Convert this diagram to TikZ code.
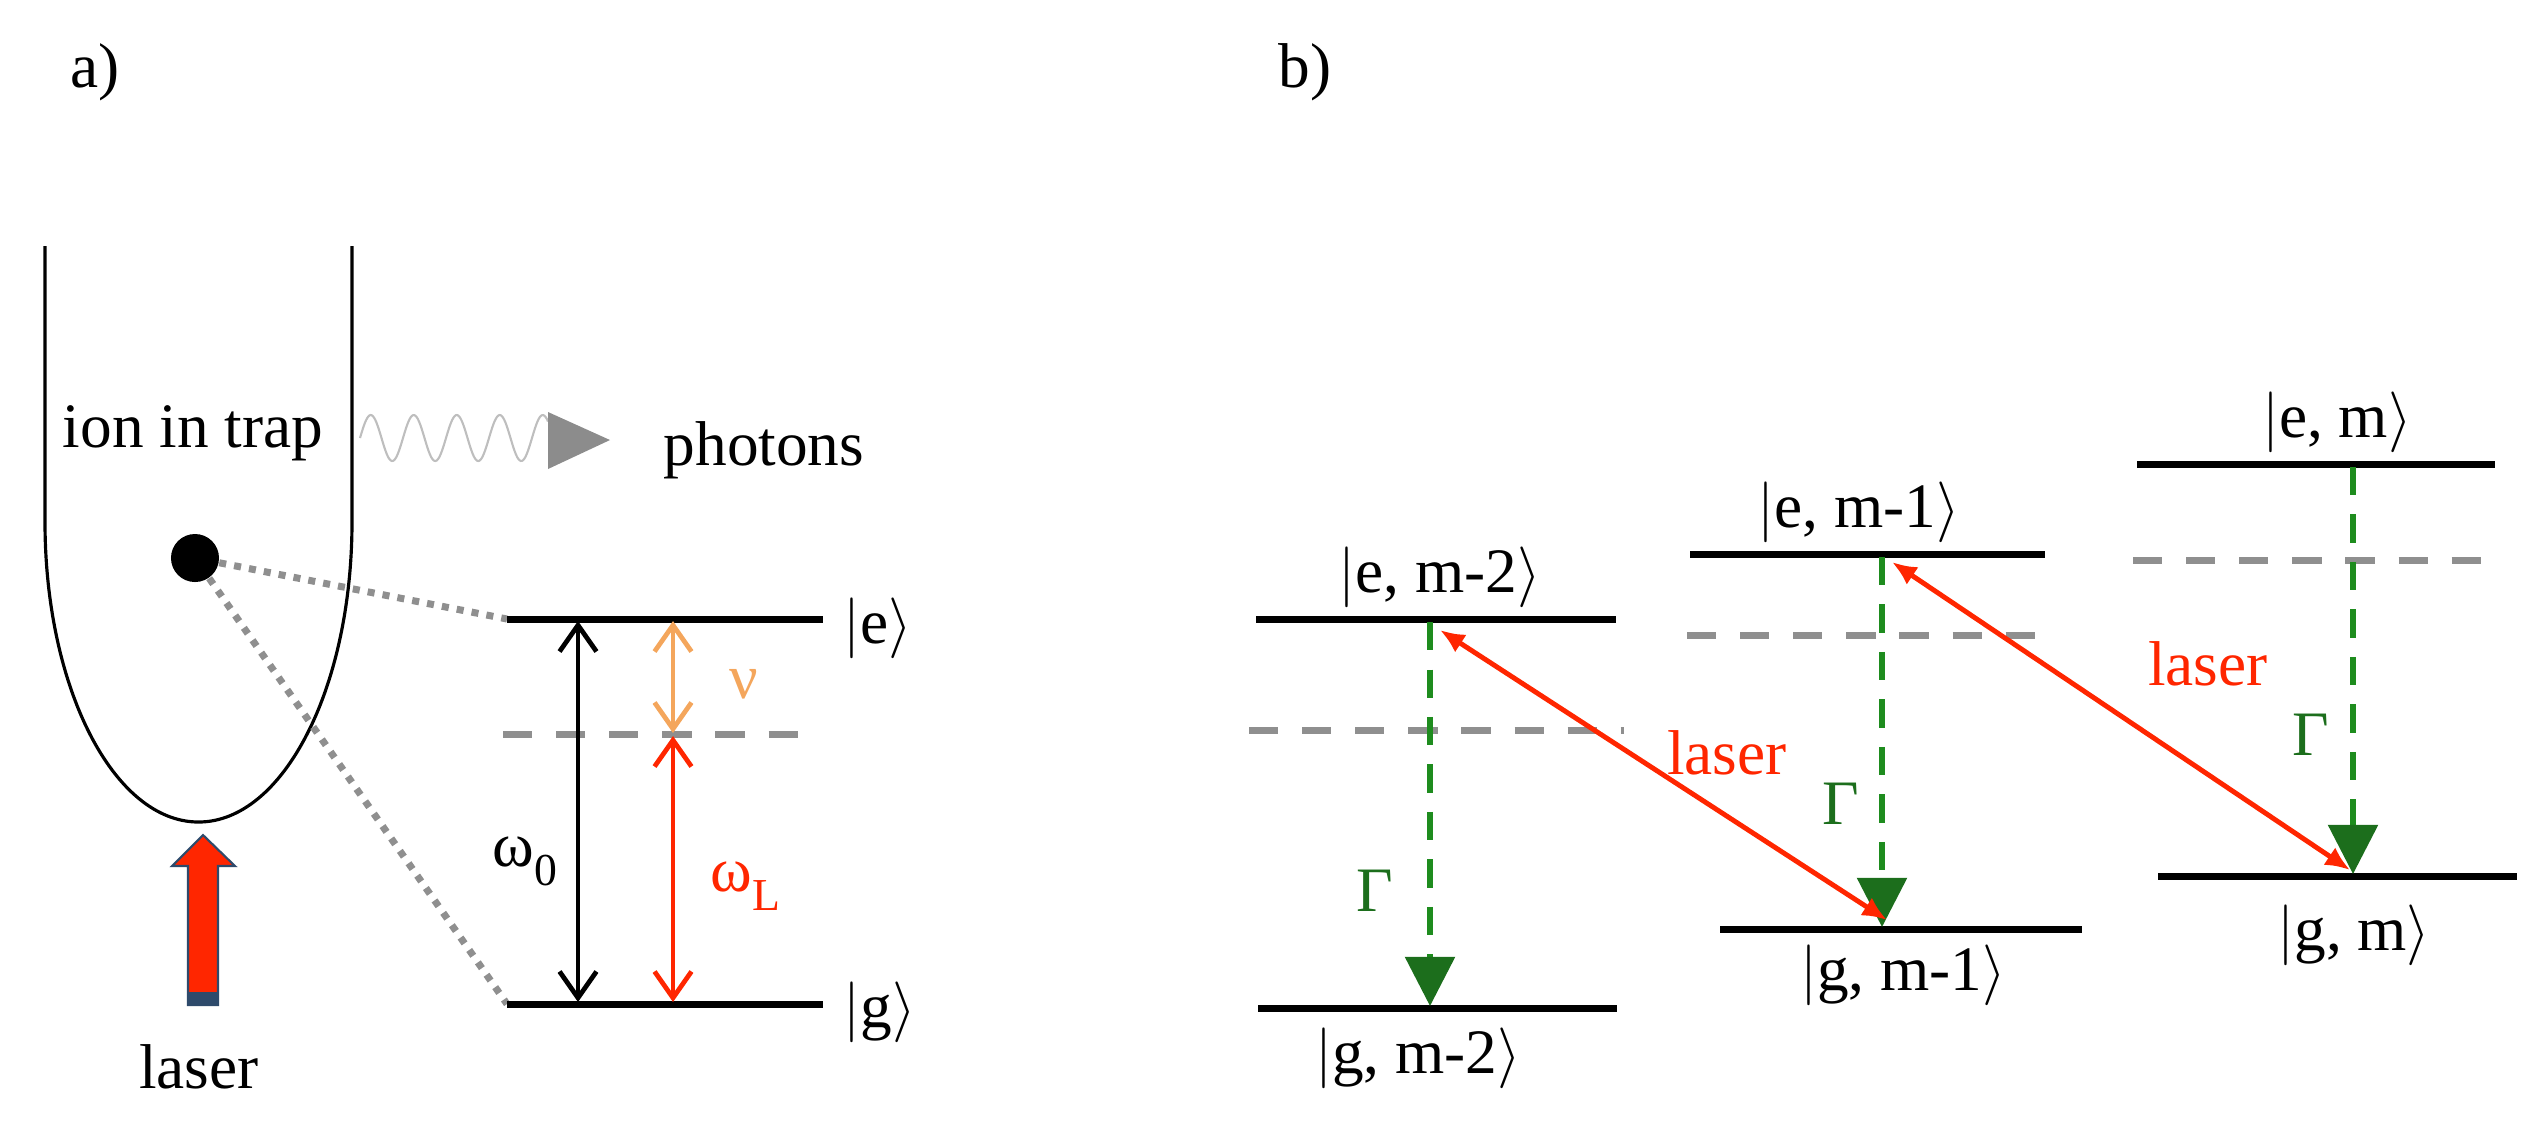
\documentclass[tikz,border=0pt]{standalone}
\usepackage{fontspec}
\setmainfont{Liberation Serif}
\usetikzlibrary{arrows.meta}
\definecolor{lred}{RGB}{255,38,0}
\definecolor{lorange}{RGB}{244,166,92}
\definecolor{lgreen}{RGB}{30,140,30}
\definecolor{dgreen}{RGB}{28,110,28}
\definecolor{dgray}{RGB}{143,143,143}
\definecolor{wgray}{RGB}{190,190,190}
\definecolor{pgray}{RGB}{140,140,140}
\definecolor{navy}{RGB}{46,74,107}
\newcommand{\myket}[1]{$|$#1$\rangle$}
\newcommand{\mysub}[1]{\raisebox{-0.3em}{\fontsize{13}{13}\selectfont #1}}
\begin{document}
\begin{tikzpicture}[x=0.01cm,y=-0.01cm,
  every node/.style={font=\fontsize{18}{22}\selectfont, inner sep=0pt},
  level/.style={line width=2pt, black},
  virt/.style={line width=2pt, dgray, dash pattern=on 8.3pt off 6.8pt},
  decay/.style={line width=1.5pt, lgreen, dash pattern=on 8pt off 5.5pt,
    -{Triangle[length=14pt,width=14pt,color=dgreen]}},
  pump/.style={line width=1.4pt, lred,
    {Latex[length=7pt,width=6pt]}-{Latex[length=7pt,width=6pt]}},
  gap/.style={line width=1.35pt,
    {Straight Barb[length=7.5pt,width=10.5pt]}-{Straight Barb[length=7.5pt,width=10.5pt]}},
  link/.style={line width=2pt, dgray, dash pattern=on 2pt off 2.3pt},
]
\useasboundingbox (0,0) rectangle (2543,1123);

% ---------------- panel labels
\node (aLab) at (95,72) {a)};
\node (bLab) at (1305,72) {b)};

% ---------------- panel a: trap
\draw[line width=0.9pt] (45,246) -- (45,522)
  .. controls (45,687.7) and (113.7,822) .. (198.5,822)
  .. controls (283.3,822) and (352,687.7) .. (352,522) -- (352,246);
\node[anchor=base] (ionLab) at (193,447) {ion in trap};
\node[circle, fill=black, minimum size=0.48cm] (ion) at (195,558) {};

% photons
\draw[wgray, line width=0.6pt] plot[domain=360:548, samples=160]
  (\x,{438-23*sin(8.372*(\x-360))});
\fill[pgray] (548,412) -- (610,440) -- (548,469) -- cycle;
\node[anchor=base] (phot) at (764,465) {photons};

% laser arrow
\filldraw[fill=lred, draw=navy, line width=0.6pt]
  (203,835) -- (235,866) -- (218,866) -- (218,1005) -- (188,1005) -- (188,866) -- (172,866) -- cycle;
\fill[navy] (188,992) rectangle (218,1005);
\node[anchor=base] (lasA) at (199,1088) {laser};

% levels panel a
\coordinate (eAL) at (507,619);
\coordinate (eAR) at (823,619);
\coordinate (gAL) at (507,1004);
\coordinate (gAR) at (823,1004);
\coordinate (vAL) at (503,734);
\coordinate (vAR) at (800,734);
\draw[link] (ion) -- (eAL);
\draw[link] (ion) -- (gAL);
\draw[level] (eAL) -- (eAR);
\draw[level] (gAL) -- (gAR);
\draw[virt] (vAL) -- (vAR);
\node[anchor=west] (eKet) at (843,628) {\myket{e}};
\node[anchor=west] (gKet) at (843,1012) {\myket{g}};

\coordinate (w0t) at (578,621);
\coordinate (w0b) at (578,1002);
\coordinate (nut) at (673,621);
\coordinate (nub) at (673,733);
\coordinate (wLt) at (673,736);
\coordinate (wLb) at (673,1002);
\draw[gap, black] (w0t) -- (w0b);
\draw[gap, lorange] (nut) -- (nub);
\draw[gap, lred] (wLt) -- (wLb);
\node[anchor=base west] (w0) at (492,866) {ω\mysub{0}};
\node[lorange] (nu) at (744,684) {ν};
\node[anchor=base west, lred] (wL) at (710,891) {ω\mysub{L}};

% ---------------- panel b
% column 1 (m-2)
\coordinate (e1L) at (1256,619); \coordinate (e1R) at (1616,619);
\coordinate (v1L) at (1249,730); \coordinate (v1R) at (1624,730);
\coordinate (g1L) at (1258,1008); \coordinate (g1R) at (1617,1008);
\draw[level] (e1L) -- (e1R);
\draw[virt] (v1L) -- (v1R);
\draw[level] (g1L) -- (g1R);
\node[anchor=base] (e1) at (1440,592) {\myket{e, m-2}};
\node[anchor=base] (g1) at (1418,1073) {\myket{g, m-2}};
\coordinate (d1t) at (1430,622); \coordinate (d1b) at (1430,1006);
\draw[decay] (d1t) -- (d1b);
\node[dgreen] (G1) at (1375,891) {Γ};

% column 2 (m-1)
\coordinate (e2L) at (1690,554); \coordinate (e2R) at (2045,554);
\coordinate (v2L) at (1687,635); \coordinate (v2R) at (2042,635);
\coordinate (g2L) at (1720,929); \coordinate (g2R) at (2082,929);
\draw[level] (e2L) -- (e2R);
\draw[virt] (v2L) -- (v2R);
\draw[level] (g2L) -- (g2R);
\node[anchor=base] (e2) at (1859,527) {\myket{e, m-1}};
\node[anchor=base] (g2) at (1903,990) {\myket{g, m-1}};
\coordinate (d2t) at (1882,557); \coordinate (d2b) at (1882,927);
\draw[decay] (d2t) -- (d2b);
\node[dgreen] (G2) at (1841,804) {Γ};

% column 3 (m)
\coordinate (e3L) at (2137,464); \coordinate (e3R) at (2495,464);
\coordinate (v3L) at (2133,560); \coordinate (v3R) at (2490,560);
\coordinate (g3L) at (2158,876); \coordinate (g3R) at (2517,876);
\draw[level] (e3L) -- (e3R);
\draw[virt] (v3L) -- (v3R);
\draw[level] (g3L) -- (g3R);
\node[anchor=base] (e3) at (2337,437) {\myket{e, m}};
\node[anchor=base] (g3) at (2354,950) {\myket{g, m}};
\coordinate (d3t) at (2353,467); \coordinate (d3b) at (2353,874);
\draw[decay] (d3t) -- (d3b);
\node[dgreen] (G3) at (2311,735) {Γ};

% laser couplings
\coordinate (p1a) at (1440,630); \coordinate (p1b) at (1887,920);
\coordinate (p2a) at (1892,562); \coordinate (p2b) at (2350,870);
\draw[pump] (p1a) -- (p1b);
\draw[pump] (p2a) -- (p2b);
\node[lred] (L1) at (1727,753) {laser};
\node[lred] (L2) at (2208,664) {laser};
\end{tikzpicture}
\end{document}
